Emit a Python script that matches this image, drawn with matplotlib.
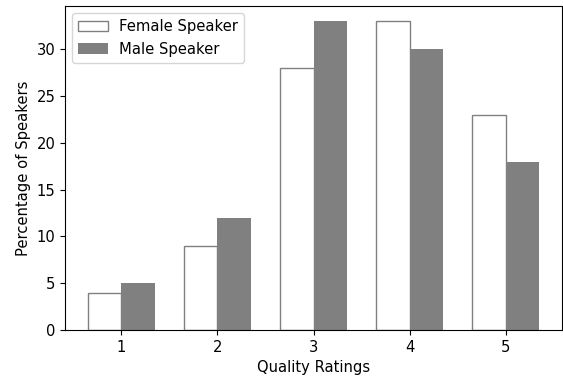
import matplotlib
matplotlib.use("Agg")
import matplotlib.pyplot as plt
import numpy as np

ratings = [1, 2, 3, 4, 5]
female = [4, 9, 28, 33, 23]
male = [5, 12, 33, 30, 18]

plt.rcParams['font.size'] = 10.6
fig, ax = plt.subplots(figsize=(5.63, 3.76), dpi=100)
x = np.array(ratings)
w = 0.35
ax.bar(x - w/2, female, w, color='white', edgecolor='gray', label='Female Speaker')
ax.bar(x + w/2, male, w, color='gray', label='Male Speaker')
ax.set_xticks(x)
ax.set_xticklabels([str(r) for r in ratings])
ax.set_xlabel('Quality Ratings')
ax.set_ylabel('Percentage of Speakers')
ax.legend(loc='upper left')
fig.subplots_adjust(left=65/563, right=562/563, top=1-6/376, bottom=1-330/376)
fig.savefig('out.png', dpi=100)
